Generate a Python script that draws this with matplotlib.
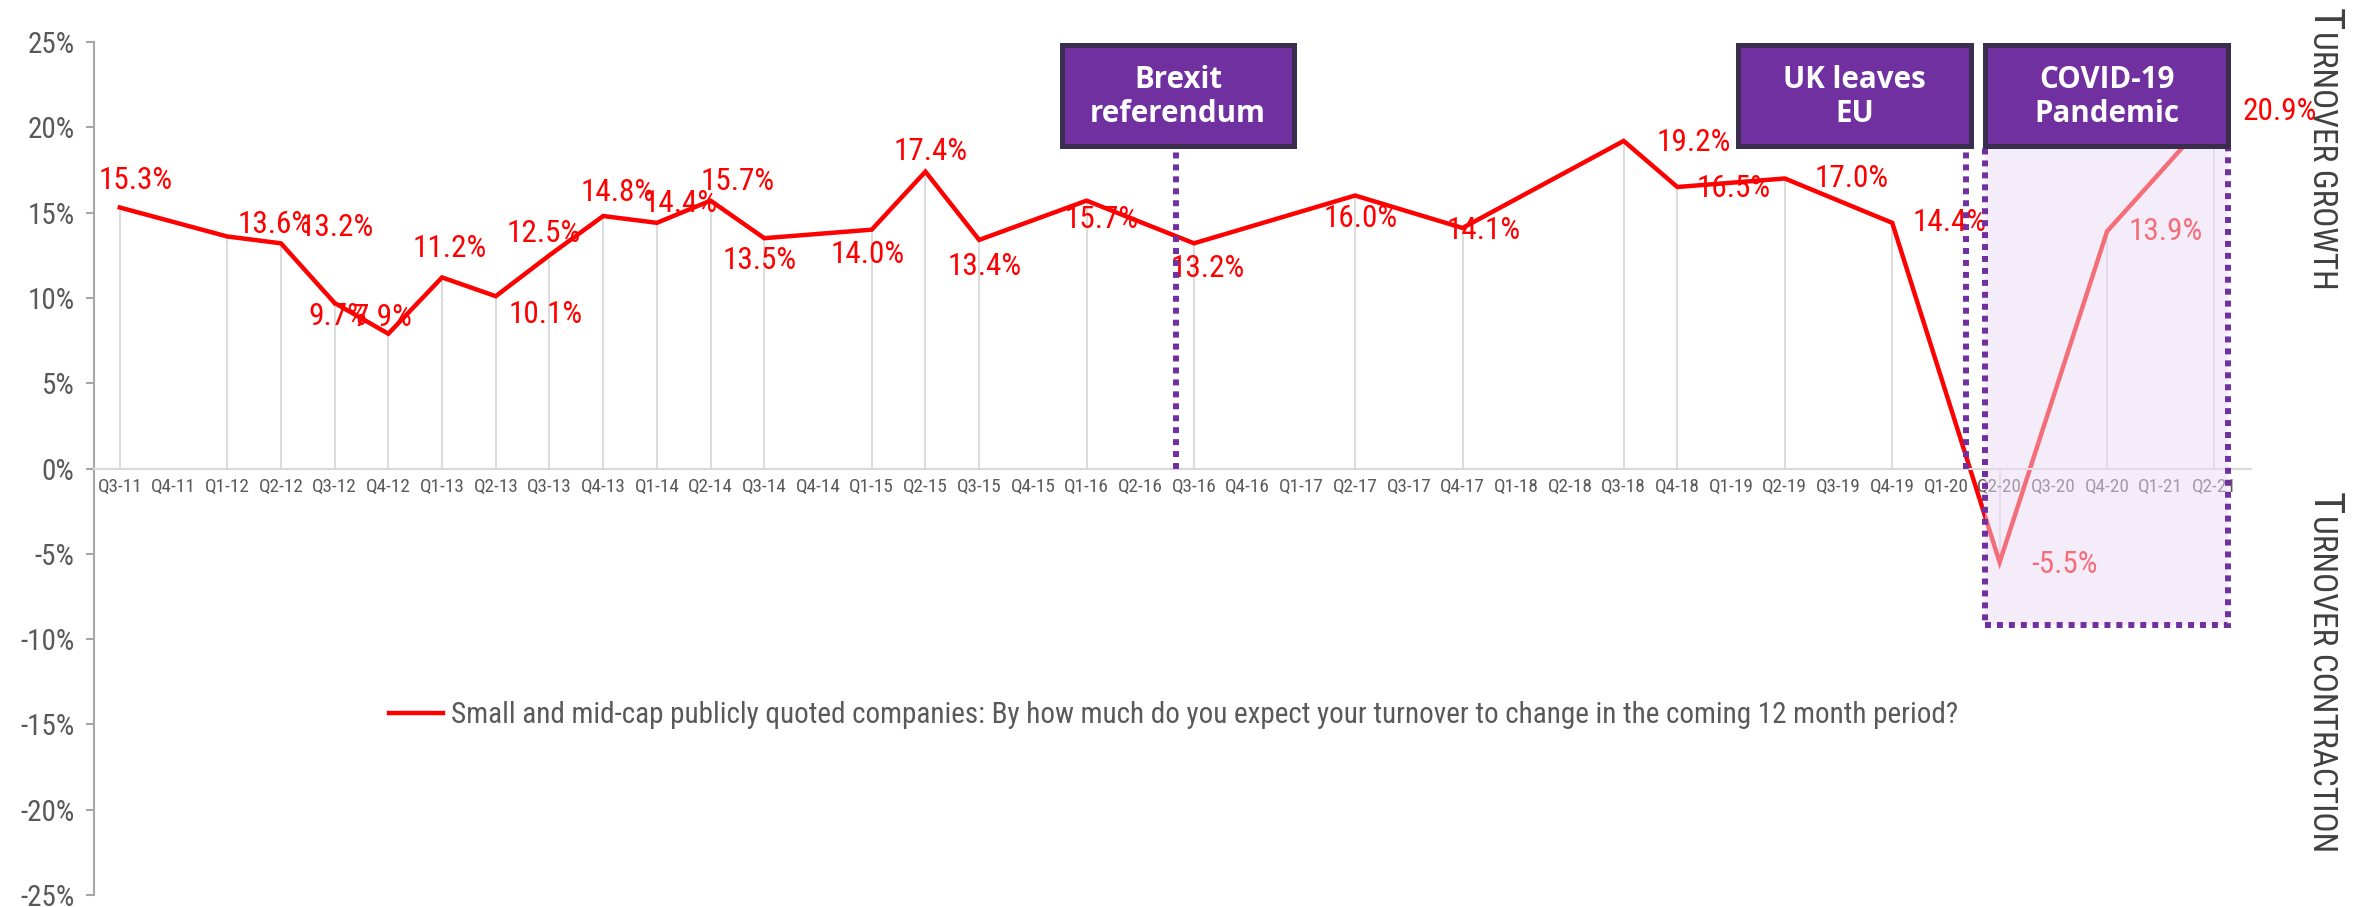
import os
import matplotlib
matplotlib.use('Agg')
import matplotlib.pyplot as plt
from matplotlib import font_manager
from matplotlib.font_manager import FontProperties
from matplotlib.patches import Rectangle
from matplotlib.textpath import TextToPath

# ---------------- data ----------------
quarters = ['Q3-11', 'Q4-11',
            'Q1-12', 'Q2-12', 'Q3-12', 'Q4-12',
            'Q1-13', 'Q2-13', 'Q3-13', 'Q4-13',
            'Q1-14', 'Q2-14', 'Q3-14', 'Q4-14',
            'Q1-15', 'Q2-15', 'Q3-15', 'Q4-15',
            'Q1-16', 'Q2-16', 'Q3-16', 'Q4-16',
            'Q1-17', 'Q2-17', 'Q3-17', 'Q4-17',
            'Q1-18', 'Q2-18', 'Q3-18', 'Q4-18',
            'Q1-19', 'Q2-19', 'Q3-19', 'Q4-19',
            'Q1-20', 'Q2-20', 'Q3-20', 'Q4-20',
            'Q1-21', 'Q2-21']
values = [15.3, None,
          13.6, 13.2, 9.7, 7.9,
          11.2, 10.1, 12.5, 14.8,
          14.4, 15.7, 13.5, None,
          14.0, 17.4, 13.4, None,
          15.7, None, 13.2, None,
          None, 16.0, None, 14.1,
          None, None, 19.2, 16.5,
          None, 17.0, None, 14.4,
          None, -5.5, None, 13.9,
          None, 20.9]
series_name = ('Small and mid-cap publicly quoted companies: By how much do you '
               'expect your turnover to change in the coming 12 month period?')
events = ['Brexit\nreferendum', 'UK leaves\nEU', 'COVID-19\nPandemic']
y_ticks = [25, 20, 15, 10, 5, 0, -5, -10, -15, -20, -25]

# label offsets (category units, percentage points) for each plotted point
label_offsets = {0: (0.29, 1.6), 2: (0.88, 0.7), 3: (1.04, 0.95), 4: (0.06, -0.8),
                 5: (-0.1, 0.95), 6: (0.15, 1.7), 7: (0.92, -1.05), 8: (-0.1, 1.3),
                 9: (0.26, 1.35), 10: (0.45, 1.15), 11: (0.5, 1.15), 12: (-0.08, -1.3),
                 14: (-0.08, -1.45), 15: (0.1, 1.2), 16: (0.1, -1.55), 18: (0.28, -1.1),
                 20: (0.25, -1.5), 23: (0.1, -1.35), 25: (0.4, -0.15), 28: (1.3, -0.1),
                 29: (1.05, -0.1), 31: (1.25, 0.0), 33: (1.06, 0.0), 35: (1.2, -0.1),
                 37: (1.1, 0.0), 39: (1.22, 0.0)}

RED = '#FF0000'
PURPLE = '#7030A0'
DARK = '#3B2D4D'
GREY = '#595959'

# ---------------- fonts ----------------
ttf = font_manager.fontManager.ttflist


def _w(f):
    w = f.weight
    if isinstance(w, str):
        return {'normal': 400, 'regular': 400, 'book': 400, 'medium': 500,
                'semibold': 600, 'demibold': 600, 'bold': 700, 'heavy': 800,
                'black': 900, 'light': 300}.get(w.lower(), 400)
    return int(w)


def pick_condensed():
    pref = ['Liberation Sans Narrow', 'Roboto Condensed', 'Open Sans Condensed',
            'Noto Sans Condensed', 'DejaVu Sans Condensed', 'DejaVu Sans']
    cands = []
    for f in ttf:
        fn = os.path.basename(f.fname).lower()
        cond = (str(f.stretch) in ('condensed', 'semi-condensed', 'extra-condensed',
                                   'ultra-condensed')
                or 'narrow' in fn or 'condensed' in fn)
        if cond and f.style == 'normal' and 350 <= _w(f) <= 450 and 'mono' not in fn:
            cands.append(f)
    if not cands:
        return None
    def key(f):
        for i, p in enumerate(pref):
            if f.name.startswith(p):
                return i
        return len(pref)
    cands.sort(key=key)
    return cands[0].fname


def pick_bold():
    pref = ['Noto Sans', 'Open Sans', 'Lato', 'Roboto', 'DejaVu Sans']
    for p in pref:
        for f in ttf:
            fn = os.path.basename(f.fname).lower()
            if (f.name == p and f.style == 'normal' and 650 <= _w(f) <= 750
                    and str(f.stretch) == 'normal' and 'condensed' not in fn):
                return f.fname
    return None


COND = pick_condensed()
BOLD = pick_bold()


def fp(size):
    if COND:
        return FontProperties(fname=COND, size=size)
    return FontProperties(family='DejaVu Sans', size=size)


def fpb(size):
    if BOLD:
        return FontProperties(fname=BOLD, size=size)
    return FontProperties(family='DejaVu Sans', weight='bold', size=size)


t2p = TextToPath()


def text_px(s, prop):
    w, h, d = t2p.get_text_width_height_descent(s, prop, ismath=False)
    return w * 100 / 72.0


# scale narrow-font sizes so that the legend line matches the reference width
base = 20.5
k = 1506.0 / text_px(series_name, fp(base))
k = min(k, 1.15)
kb = min(176.0 / text_px('referendum', fpb(21)), 1.15)
# x tick labels: match the reference width of one label (about 45 px)
kx = 45.0 / text_px('Q3-11', fp(10))

fig = plt.figure(figsize=(23.62, 9.07), dpi=100)
ax = fig.add_axes([94 / 2362, 1 - 895 / 907, (2251 - 94) / 2362, 853 / 907])

# spines first (repositioning a spine resets its ticks)
for s in ['top', 'right']:
    ax.spines[s].set_visible(False)
ax.spines['left'].set_color('#A6A6A6')
ax.spines['left'].set_linewidth(1.5)
ax.spines['bottom'].set_position(('data', 0))
ax.spines['bottom'].set_color('#D9D9D9')
ax.spines['bottom'].set_linewidth(1.5)

xs = [i for i, v in enumerate(values) if v is not None]
ys = [values[i] for i in xs]

# drop lines
ax.vlines(xs, 0, ys, color='#D9D9D9', lw=1.3, zorder=1)
# main line
ax.plot(xs, ys, color=RED, lw=3.2, zorder=2, solid_joinstyle='miter', label=series_name)

for i, v in zip(xs, ys):
    dx, dy = label_offsets.get(i, (0, 1))
    ax.text(i + dx, v + dy, f'{v:.1f}%', color=RED, fontproperties=fp(22 * k),
            ha='center', va='center', zorder=2.2)

ax.set_xlim(-0.48, 39.68)
ax.set_ylim(-25, 25)
ax.set_yticks(y_ticks)
ax.set_yticklabels([f'{t}%' for t in y_ticks], fontproperties=fp(20.5 * k), color=GREY)
ax.set_xticks(range(len(quarters)))
ax.set_xticklabels(quarters, fontproperties=fp(min(10 * kx, 18)), color=GREY)
ax.tick_params(axis='y', length=6, width=1.5, color='#A6A6A6', pad=8)
ax.tick_params(axis='x', length=0, pad=7)

# COVID shaded overlay
covid_x0, covid_x1 = 34.73, 39.26
box_bottom, box_top = -9.2, 18.9
ax.add_patch(Rectangle((covid_x0, box_bottom), covid_x1 - covid_x0, box_top - box_bottom,
                       facecolor=(235 / 255, 221 / 255, 245 / 255), alpha=0.5,
                       edgecolor='none', zorder=3))
ax.add_patch(Rectangle((covid_x0, box_bottom), covid_x1 - covid_x0, box_top - box_bottom,
                       facecolor='none', edgecolor=PURPLE, lw=4.3,
                       linestyle=(0, (1, 1)), zorder=4))

# event dotted lines
for xv in [19.67, 34.38]:
    ax.plot([xv, xv], [0, box_top], color=PURPLE, lw=4.3, linestyle=(0, (1, 1)),
            dash_capstyle='butt', zorder=4)

# event label boxes
box_spans = [(17.55, 21.86), (30.12, 34.47), (34.73, 39.26)]
for (x0, x1), txt in zip(box_spans, events):
    ax.add_patch(Rectangle((x0, box_top), x1 - x0, 24.85 - box_top, facecolor=PURPLE,
                           edgecolor=DARK, lw=3.6, zorder=5))
    ax.text((x0 + x1) / 2, (24.85 + box_top) / 2 - 0.1, txt, color='white',
            fontproperties=fpb(21 * kb), ha='center', va='center',
            linespacing=1.15, zorder=6)

# legend
leg = ax.legend(loc='center left', bbox_to_anchor=((389 - 94) / 2157, (895 - 715) / 853),
                frameon=False, handlelength=1.9 / k, handletextpad=0.28, borderpad=0,
                borderaxespad=0, prop=fp(20.5 * k))
for t in leg.get_texts():
    t.set_color(GREY)

# right-side small caps labels
fig.canvas.draw()
renderer = fig.canvas.get_renderer()


def small_caps(first, rest, xfig, ytop_px):
    t1 = fig.text(xfig, 1 - ytop_px / 907, first, rotation=-90, rotation_mode='anchor',
                  ha='left', va='baseline', fontproperties=fp(30 * k), color='#404040')
    bb = t1.get_window_extent(renderer)
    y2 = (bb.y0 - 1) / fig.bbox.height
    fig.text(xfig, y2, rest, rotation=-90, rotation_mode='anchor', ha='left',
             va='baseline', fontproperties=fp(23.5 * k), color='#404040')


small_caps('T', 'URNOVER GROWTH', 2313 / 2362, 8)
small_caps('T', 'URNOVER CONTRACTION', 2313 / 2362, 492)

fig.savefig('out.png', dpi=100)
